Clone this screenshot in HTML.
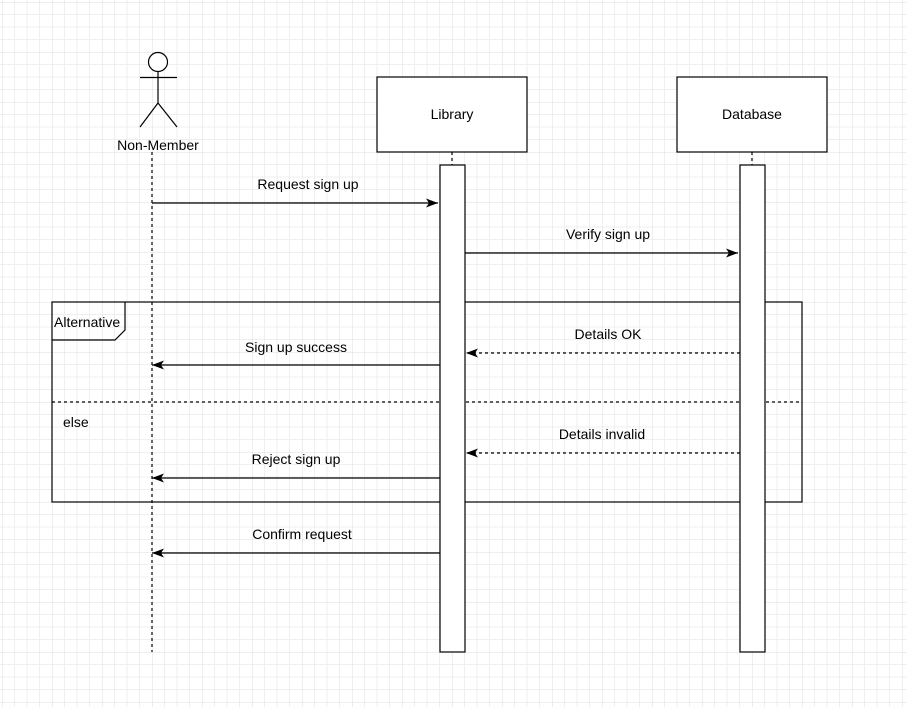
<!DOCTYPE html>
<html><head><style>body{margin:0;background:#fff}svg{display:block}text{font-family:"Liberation Sans",sans-serif;font-size:14px;fill:#000}</style></head>
<body>
<svg width="907" height="707" xmlns="http://www.w3.org/2000/svg">
<defs>
<pattern id="g" x="2" y="2" width="50" height="50" patternUnits="userSpaceOnUse">
<path d="M12.5 0V50M25 0V50M37.5 0V50M0 12.5H50M0 25H50M0 37.5H50" stroke="#efefef" stroke-width="1"/>
<path d="M0 0V50M0 0H50" stroke="#dcdcdc" stroke-width="1"/>
</pattern>
<marker id="a" markerWidth="14" markerHeight="12" refX="12" refY="6" orient="auto" markerUnits="userSpaceOnUse"><path d="M0 1.5L12 6L0 10.5L3 6Z" fill="#000"/></marker>
</defs>
<rect width="907" height="707" fill="url(#g)"/>
<g stroke="#000" fill="none" stroke-width="1.2">
<circle cx="158" cy="62" r="9.5" fill="#fff"/>
<path d="M158 71.5V103M140 77.5H177M158 103L140 127M158 103L177 127"/>
<path d="M152 152V652" stroke-dasharray="3,3"/>
<path d="M452 152V165M752 152V165" stroke-dasharray="3,3"/>
<rect x="377" y="77" width="150" height="75" fill="#fff"/>
<rect x="677" y="77" width="150" height="75" fill="#fff"/>
<rect x="52" y="302" width="750" height="200"/>
<path d="M52 340H115L125 330V302"/>
<path d="M52 402H802" stroke-dasharray="3,3"/>
<rect x="440" y="165" width="25" height="487" fill="#fff"/>
<rect x="740" y="165" width="25" height="487" fill="#fff"/>
<path d="M152 203H438" marker-end="url(#a)"/>
<path d="M465 253H738" marker-end="url(#a)"/>
<path d="M740 353H466" stroke-dasharray="3,3" marker-end="url(#a)"/>
<path d="M440 365H152" marker-end="url(#a)"/>
<path d="M740 453H466" stroke-dasharray="3,3" marker-end="url(#a)"/>
<path d="M440 478H152" marker-end="url(#a)"/>
<path d="M440 553H152" marker-end="url(#a)"/>
</g>
<text x="158" y="150" text-anchor="middle">Non-Member</text>
<text x="452" y="119" text-anchor="middle">Library</text>
<text x="752" y="119" text-anchor="middle">Database</text>
<text x="54" y="327">Alternative</text>
<text x="63" y="427">else</text>
<text x="308" y="189" text-anchor="middle">Request sign up</text>
<text x="608" y="239" text-anchor="middle">Verify sign up</text>
<text x="608" y="339" text-anchor="middle">Details OK</text>
<text x="296" y="352" text-anchor="middle">Sign up success</text>
<text x="602" y="439" text-anchor="middle">Details invalid</text>
<text x="296" y="464" text-anchor="middle">Reject sign up</text>
<text x="302" y="539" text-anchor="middle">Confirm request</text>
</svg>
</body></html>
